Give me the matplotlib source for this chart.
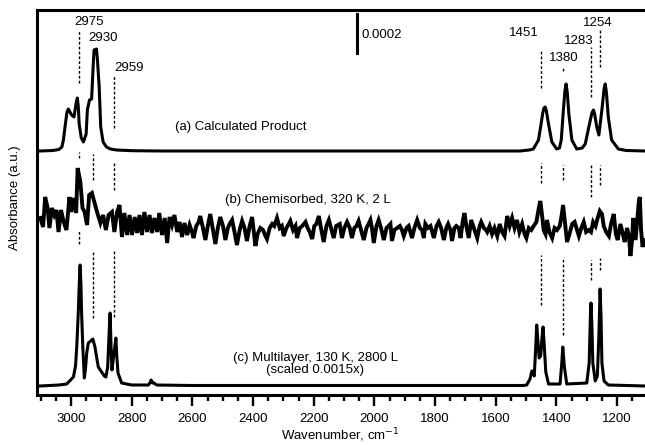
import matplotlib
matplotlib.use("Agg")
import matplotlib.pyplot as plt
import numpy as np
from matplotlib.ticker import MultipleLocator

plt.rcParams['font.family'] = ['Liberation Sans', 'DejaVu Sans']

# ---------------- data (absorbance, arbitrary units; scale bar = 0.0002) ----------------
# (a) Calculated product: wavenumber / height above its baseline
A_WN = [3102, 3060, 3040, 3030, 3025, 3018, 3013, 3009, 3005, 2998, 2990, 2983, 2979, 2976,
        2973, 2966, 2959, 2950, 2946, 2939, 2932, 2927, 2924, 2916, 2913, 2907, 2902, 2894,
        2883, 2870, 2850, 2800, 2700, 1520, 1490, 1476, 1459, 1450, 1445, 1441, 1437, 1433,
        1426, 1415, 1399, 1390, 1384, 1377, 1372, 1368, 1364, 1359, 1349, 1333, 1315, 1305,
        1291, 1283, 1278, 1274, 1267, 1260, 1253, 1249, 1243, 1239, 1235, 1229, 1218, 1196,
        1170, 1108]
A_H = [0, 0.5, 1.5, 4, 11, 28, 39, 42, 40, 36, 34, 48, 53, 45,
       27, 13, 9, 17, 41, 51, 52, 84, 101, 102, 92, 64, 24, 9,
       4, 2, 1, 0.3, 0, 0, 1, 2, 11, 28, 38, 43, 44, 40,
       27, 9, 2, 3, 11, 41, 60, 67, 58, 37, 11, 2, 3, 7,
       27, 38, 41, 37, 24, 16, 34, 44, 62, 67, 58, 34, 11, 2,
       0.5, 0]

# (b) Chemisorbed, 320 K, 2 L: wavenumber / deviation from its offset
B_WN = [3101, 3092, 3085, 3077, 3071, 3063, 3055, 3048, 3041, 3033, 3024, 3015, 3005, 2999,
        2991, 2983, 2978, 2969, 2962, 2955, 2947, 2940, 2931, 2923, 2914, 2903, 2894, 2885,
        2876, 2865, 2857, 2848, 2840, 2832, 2824, 2815, 2807, 2799, 2790, 2782, 2774, 2766,
        2758, 2749, 2741, 2733, 2725, 2716, 2709, 2700, 2691, 2683, 2675, 2667, 2659, 2650,
        2642, 2634, 2626, 2617, 2609, 2601,
        2596, 2587, 2579, 2574, 2565, 2557, 2549, 2541, 2532, 2524, 2516, 2508, 2499, 2491,
        2483, 2477, 2469, 2461, 2453, 2444, 2436, 2428, 2420, 2411, 2403, 2398, 2392, 2385,
        2376, 2367, 2359, 2354, 2345, 2337, 2330, 2321, 2312, 2305, 2299, 2290, 2282, 2277,
        2268, 2260, 2255, 2246, 2238, 2227, 2220, 2213, 2205, 2198, 2191, 2183, 2176, 2167,
        2158, 2150, 2143, 2134, 2126,
        2114, 2107, 2099, 2090, 2081, 2074, 2066, 2059, 2052, 2044, 2035, 2026, 2019, 2013,
        2008, 2002, 1993, 1986, 1978, 1969, 1960, 1953, 1947, 1942, 1934, 1925, 1916, 1909,
        1903, 1894, 1887, 1876, 1868, 1859, 1850, 1843, 1837, 1832, 1824, 1815, 1804, 1795,
        1788, 1780, 1771, 1763, 1757, 1749, 1744, 1736, 1730, 1722, 1716, 1708, 1703, 1697,
        1689, 1681, 1672, 1661, 1653, 1648, 1639, 1632,
        1628, 1620, 1612, 1604, 1595, 1587, 1579, 1571, 1562, 1554, 1546, 1538, 1530, 1522,
        1513, 1505, 1499, 1491, 1483, 1475, 1466, 1458, 1453, 1447, 1442, 1436, 1431, 1423,
        1414, 1406, 1398, 1389, 1383, 1378, 1372, 1365, 1357, 1348, 1340, 1334, 1326, 1318,
        1310, 1302, 1293, 1286, 1279, 1271, 1264, 1257, 1250, 1244, 1236, 1227, 1220, 1211,
        1204, 1198, 1189, 1181, 1175, 1167, 1161, 1156, 1150, 1147, 1139, 1134, 1128, 1125,
        1121, 1116, 1112]
B_DEV = [12, 3, 33, 22, 2, 22, 15, 20, -2, 20, 8, 0, 33, 18,
         32, 17, 62, 48, 22, 18, 5, 35, 37, 28, 18, 7, 15, 0,
         15, 18, -2, 18, 25, -7, 17, -5, 15, -5, 13, -3, 15, -5,
         18, -2, 15, -3, 12, -2, 17, -5, 12, -13, 13, 5, 15, -2,
         8, -7, 7, -5, 5, -2,
         -8, 4, 8, 14, 2, -10, 4, 16, 0, -14, 2, 13, 4, -10,
         2, 6, 10, -2, -15, 0, 9, 2, -11, 4, 13, 0, -16, -4,
         2, 0, -6, -9, 2, 6, 4, 12, 2, 4, -6, 2, 6, 9,
         0, 4, -8, 2, 4, 8, 2, -2, -9, 4, 6, 14, 2, -12,
         4, 10, 2, -8, 4,
         6, -8, 2, 8, 2, -8, 2, 4, 9, 0, -10, 2, 6, 10,
         2, -13, 4, 10, 2, -10, 2, 4, 6, -11, 0, 2, 4, 0,
         -6, 2, 4, -8, 2, 10, 2, 0, -8, 6, 2, 4, -8, 4,
         8, 2, -10, 2, 6, 0, -11, 2, 4, 2, -8, 10, 17, 4,
         -8, 10, 2, -8, 4, 8, 2, 0,
         -2, 4, -4, 2, -6, 6, -2, -6, 14, 4, 12, 2, 10, -2,
         6, -4, -8, 2, 0, 4, 8, 22, 29, 14, 0, -4, 10, -2,
         -8, 2, 0, 4, 14, 25, 8, -12, -4, 6, 8, 2, -6, 2,
         8, -2, 0, -2, 8, 4, 12, 19, 16, 4, -2, -6, 6, 16,
         -4, -10, 6, -4, -12, 2, -6, -26, -8, 12, -10, 8, 30, 33,
         0, -17, -10]

# (c) Multilayer, 130 K, 2800 L (scaled): wavenumber / height above its baseline
C_WN = [3102, 3040, 3014, 2992, 2985, 2981, 2976, 2973, 2970, 2967, 2965, 2961, 2956,
        2952, 2948, 2943, 2935, 2928, 2921, 2915, 2910, 2899, 2890, 2885, 2879, 2874, 2871,
        2868, 2865, 2858, 2852, 2849, 2845, 2833, 2800, 2745, 2740, 2736, 2731, 2726, 2718,
        2600, 1510, 1498, 1487, 1481, 1473, 1468, 1465, 1461, 1457, 1452, 1447, 1444, 1440,
        1435, 1426, 1388, 1382, 1379, 1374, 1366, 1300, 1292, 1288, 1286, 1283, 1280, 1272,
        1265, 1260, 1256, 1253, 1250, 1243, 1229, 1108]
C_H = [0, 1, 2, 9, 20, 39, 73, 100, 121, 100, 73, 39, 8,
       18, 33, 43, 45, 47, 39, 28, 19, 14, 10, 9, 19, 55, 73,
       40, 16, 33, 48, 30, 13, 3, 1, 1, 3, 6, 3, 3, 1,
       0.5, 0.5, 1, 7, 15, 10, 40, 61, 45, 28, 30, 50, 59, 40,
       14, 2, 2, 24, 39, 20, 2, 3, 23, 70, 83, 60, 23, 5,
       10, 50, 97, 70, 23, 5, 1, 0]

OFFSET_A, OFFSET_B, OFFSET_C = 244, 165, 9

# dashed guide lines: wavenumber, (ymin, ymax) segments
GUIDE_WN = [2974, 2928, 2858, 1451, 1378, 1286, 1255]
GUIDE_SEG = [
    [(312, 365), (237, 243), (151, 165)],
    [(215, 241), (77, 143)],
    [(267, 320), (205, 232), (78, 145)],
    [(307, 345), (212, 232), (90, 140)],
    [(324, 328), (215, 230), (60, 138)],
    [(298, 348), (198, 230), (115, 135)],
    [(328, 365), (210, 230), (125, 137)],
]

PEAK_LABELS = ["2975", "2930", "2959", "1451", "1380", "1283", "1254"]
PEAK_LABEL_X = [2990, 2943, 2857, 1558, 1423, 1374, 1313]
PEAK_LABEL_Y = [373, 357, 327, 362, 337, 354, 372]

SCALE_WN, SCALE_Y0, SCALE_LEN, SCALE_TEXT = 2057, 342, 39, "0.0002"

FS = 9.5

# ---------------- figure ----------------
fig = plt.figure(figsize=(6.45, 4.45), dpi=100)
ax = fig.add_axes([37 / 645, 1 - 395 / 445, 608 / 645, 385 / 445])

ax.plot(A_WN, np.array(A_H) + OFFSET_A, color='black', lw=2.2, solid_joinstyle='round')
ax.plot(B_WN, np.array(B_DEV) + OFFSET_B, color='black', lw=2.8, solid_joinstyle='miter')
ax.plot(C_WN, np.array(C_H) + OFFSET_C, color='black', lw=2.2, solid_joinstyle='round')

for wn, segs in zip(GUIDE_WN, GUIDE_SEG):
    for y0, y1 in segs:
        ax.plot([wn, wn], [y0, y1], color='black', lw=1.0, linestyle=(0, (2, 1.5)))

for t, x, y in zip(PEAK_LABELS, PEAK_LABEL_X, PEAK_LABEL_Y):
    ax.text(x, y, t, ha='left', va='center', fontsize=FS)

ax.plot([SCALE_WN, SCALE_WN], [SCALE_Y0, SCALE_Y0 + SCALE_LEN], color='black', lw=2.2)
ax.text(2044, 360, SCALE_TEXT, ha='left', va='center', fontsize=FS)

ax.text(2441, 268, "(a) Calculated Product", ha='center', va='center', fontsize=FS)
ax.text(2219, 195, "(b) Chemisorbed, 320 K, 2 L", ha='center', va='center', fontsize=FS)
ax.text(2195, 31, "(c) Multilayer, 130 K, 2800 L\n(scaled 0.0015x)", ha='center',
        va='center', fontsize=FS, multialignment='center', linespacing=1.1)

ax.set_xlim(3112, 1108)
ax.set_ylim(0, 385)
ax.set_yticks([])
ax.spines['right'].set_visible(False)
for s in ['left', 'top', 'bottom']:
    ax.spines[s].set_linewidth(2.2)
ax.xaxis.set_major_locator(MultipleLocator(200))
ax.xaxis.set_minor_locator(MultipleLocator(50))
ax.tick_params(axis='x', which='major', length=8, width=1.7, direction='out',
               labelsize=FS, pad=5)
ax.tick_params(axis='x', which='minor', length=4, width=1.7, direction='out')

fig.text(15 / 645, 1 - 197.5 / 445, "Absorbance (a.u.)", rotation=90, ha='center',
         va='center', fontsize=FS)
fig.text(340 / 645, 1 - 435 / 445, "Wavenumber, cm$^{-1}$", ha='center', va='center',
         fontsize=FS)

fig.savefig("out.png", dpi=100)
